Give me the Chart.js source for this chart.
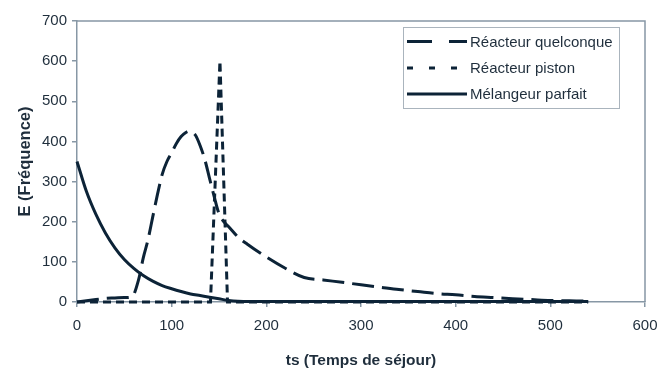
<!DOCTYPE html>
<html>
<head>
<meta charset="utf-8">
<script src="https://cdn.jsdelivr.net/npm/chart.js@4"></script>
<style>
  html, body { margin: 0; padding: 0; background: #fff; }
</style>
</head>
<body>
<canvas id="chart" width="668" height="374"></canvas>
<script>
// Réacteur quelconque
const quelT = [0, 10, 20, 30, 40, 50, 58, 65, 70, 75, 80, 85, 90, 95, 100, 105, 110, 115, 118, 120, 125, 130, 135, 140, 145, 150, 155, 160, 170, 180, 200, 220, 240, 260, 280, 300, 320, 340, 360, 380, 400, 420, 440, 460, 480, 500, 520, 540];
const quelE = [0, 3, 6, 9, 10, 11, 13, 55, 110, 155, 212, 268, 318, 350, 372, 395, 412, 422, 425, 424, 416, 390, 355, 308, 262, 220, 200, 188, 162, 144, 112, 84, 61, 55, 49, 43, 37, 31, 26, 21, 18, 14, 11, 8, 6, 4, 3, 2];

// Réacteur piston
const pistonT = [0, 141, 151, 159, 540];
const pistonE = [0, 0, 600, 0, 0];

// Mélangeur parfait
const melT = [0, 10, 20, 30, 40, 50, 60, 70, 80, 90, 100, 110, 120, 130, 140, 150, 160, 170, 200, 250, 300, 350, 400, 450, 500, 540];
const melE = [350, 275, 218, 172, 135, 106, 84, 66, 52, 41, 33, 26, 20, 16, 12, 8, 4, 2, 1, 1, 1, 1, 1, 1, 1, 1];

const seriesNames = ["Réacteur quelconque", "Réacteur piston", "Mélangeur parfait"];
const xTitle = "ts (Temps de séjour)";
const yTitle = "E (Fréquence)";

const ink = "#0c2337";
const textCol = "#1f2e3c";
const axisCol = "#8797a5";
const fontFam = "'Liberation Sans', Arial, sans-serif";

function toPoints(xs, ys) {
    return xs.map((x, i) => ({ x: x, y: ys[i] }));
}

// frame round the plot (top and right sides)
const framePlugin = {
    id: "frame",
    beforeDatasetsDraw(chart) {
        const a = chart.chartArea;
        const ctx = chart.ctx;
        ctx.save();
        ctx.strokeStyle = axisCol;
        ctx.lineWidth = 1.5;
        ctx.beginPath();
        ctx.moveTo(a.left, a.top);
        ctx.lineTo(a.right, a.top);
        ctx.lineTo(a.right, a.bottom);
        ctx.stroke();
        ctx.restore();
    }
};

// boxed legend in the top right corner
const legendDashes = [[25, 17], [6, 16], []];
const legendPlugin = {
    id: "boxLegend",
    afterDraw(chart) {
        const ctx = chart.ctx;
        ctx.save();
        ctx.fillStyle = "#fff";
        ctx.fillRect(403.5, 27.5, 216, 81);
        ctx.strokeStyle = "#aab4bd";
        ctx.lineWidth = 1;
        ctx.strokeRect(403.5, 27.5, 216, 81);
        const rows = [41.5, 68, 94];
        chart.data.datasets.forEach((ds, i) => {
            ctx.strokeStyle = ink;
            ctx.lineWidth = 3;
            ctx.setLineDash(legendDashes[i]);
            ctx.beginPath();
            ctx.moveTo(407, rows[i]);
            ctx.lineTo(467, rows[i]);
            ctx.stroke();
            ctx.setLineDash([]);
            ctx.fillStyle = textCol;
            ctx.font = "15px " + fontFam;
            ctx.textBaseline = "middle";
            ctx.fillText(ds.label, 470, rows[i] + 1);
        });
        ctx.restore();
    }
};

new Chart(document.getElementById("chart"), {
    type: "scatter",
    data: {
        datasets: [
            {
                label: seriesNames[0],
                data: toPoints(quelT, quelE),
                showLine: true,
                borderColor: ink,
                borderWidth: 3,
                borderDash: [22, 8],
                pointRadius: 0,
                cubicInterpolationMode: "monotone",
                clip: false,
                order: 3
            },
            {
                label: seriesNames[1],
                data: toPoints(pistonT, pistonE),
                showLine: true,
                borderColor: ink,
                borderWidth: 3,
                borderDash: [8, 5],
                pointRadius: 0,
                tension: 0,
                clip: false,
                order: 2
            },
            {
                label: seriesNames[2],
                data: toPoints(melT, melE),
                showLine: true,
                borderColor: ink,
                borderWidth: 3,
                pointRadius: 0,
                cubicInterpolationMode: "monotone",
                clip: false,
                order: 1
            }
        ]
    },
    options: {
        responsive: false,
        animation: false,
        layout: { padding: { top: 21, right: 23, left: 0, bottom: 0 } },
        plugins: {
            legend: { display: false },
            tooltip: { enabled: false }
        },
        scales: {
            x: {
                type: "linear",
                min: 0,
                max: 600,
                ticks: { stepSize: 100, autoSkip: false, maxRotation: 0, padding: 10, color: textCol, font: { family: fontFam, size: 15 } },
                grid: { drawOnChartArea: false, tickLength: 5, color: axisCol, lineWidth: 1.5 },
                border: { color: axisCol, width: 1.5 },
                title: { display: true, text: xTitle, color: textCol, padding: { top: 0, bottom: 4 }, font: { family: fontFam, size: 15.5, weight: "bold" } },
                afterFit(scale) { scale.height = 72; }
            },
            y: {
                type: "linear",
                min: 0,
                max: 700,
                ticks: { stepSize: 100, autoSkip: false, padding: 5, color: textCol, font: { family: fontFam, size: 15 } },
                grid: { drawOnChartArea: false, tickLength: 5, color: axisCol, lineWidth: 1.5 },
                border: { color: axisCol, width: 1.5 },
                title: { display: true, text: yTitle, color: textCol, padding: { top: 16, bottom: 0 }, font: { family: fontFam, size: 16.5, weight: "bold" } },
                afterFit(scale) { scale.width = 77; }
            }
        }
    },
    plugins: [framePlugin, legendPlugin]
});
</script>
</body>
</html>
